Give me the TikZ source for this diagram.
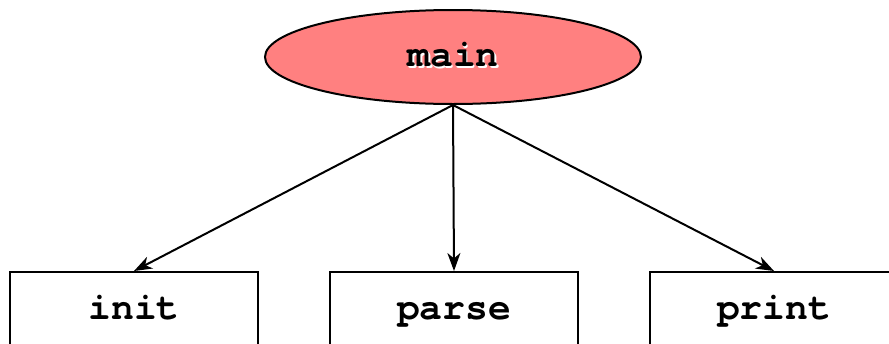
\documentclass[tikz,border=0pt]{standalone}
\usepackage{fontspec}
\setmonofont{TeX Gyre Cursor}
\usepackage{xcolor}
\usepackage{tikz}
\usetikzlibrary{shapes.geometric, arrows.meta, positioning}

\definecolor{mainred}{HTML}{FF8080}
\newcommand{\shadowed}[1]{\makebox[0pt][l]{\hspace{0.8pt}\raisebox{-0.8pt}{\textcolor{white}{#1}}}#1}

\begin{document}
\begin{tikzpicture}[
    x=0.5pt, y=-0.5pt,
    func/.style={draw, line width=1pt, minimum width=124pt, minimum height=38pt, text height=1.15em, text depth=0.2em, font=\fontsize{19}{22}\ttfamily\bfseries},
    root/.style={draw, ellipse, line width=1pt, fill=mainred, minimum width=188pt, minimum height=47pt, inner sep=0pt, text height=1.15em, text depth=0.2em, font=\fontsize{19}{22}\ttfamily\bfseries},
    arrow/.style={-{Stealth[length=9pt, width=6.5pt, inset=2.7pt]}, line width=1pt}
]
    \useasboundingbox (0,0) rectangle (889,343);
    \clip (0,0) rectangle (889,343);

    % Caller
    \node[root] (main) at (453, 57) {\shadowed{main}};

    % Callees
    \node[func] (init) at (134, 310) {init};
    \node[func] (parse) at (454, 310) {parse};
    \node[func] (print) at (774, 310) {print};

    \draw[arrow] (main.south) -- (init.north);
    \draw[arrow] (main.south) -- (parse.north);
    \draw[arrow] (main.south) -- (print.north);
\end{tikzpicture}
\end{document}
